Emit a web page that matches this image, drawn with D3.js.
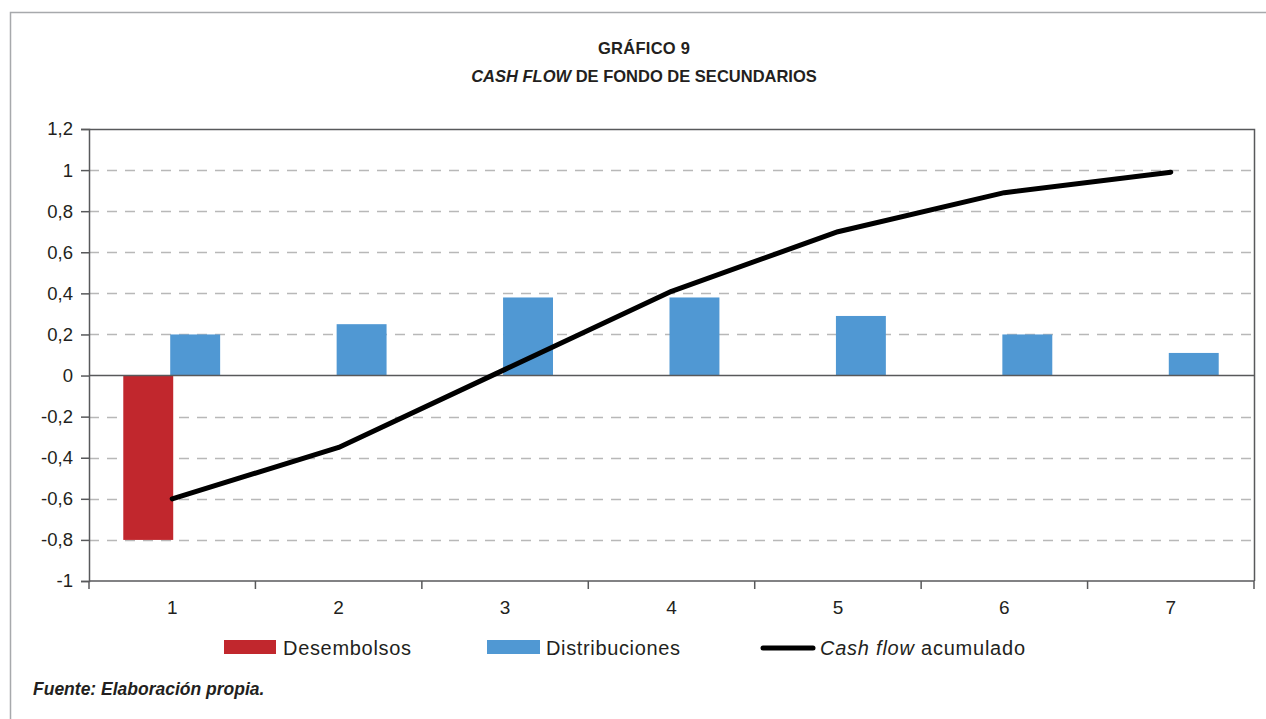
<!DOCTYPE html>
<html>
<head>
<meta charset="utf-8">
<script src="https://cdn.jsdelivr.net/npm/d3@7"></script>
<style>
  body { margin: 0; background: #fff; }
  svg text { font-family: "Liberation Sans", Arial, sans-serif; fill: #231f20; }
</style>
</head>
<body>
<div class="chart"></div>
<script>
var categories = ["1", "2", "3", "4", "5", "6", "7"];
var desembolsos = [-0.8, 0, 0, 0, 0, 0, 0];
var distribuciones = [0.2, 0.25, 0.38, 0.38, 0.29, 0.2, 0.11];
var acumulado = [-0.6, -0.35, 0.03, 0.41, 0.70, 0.89, 0.99];
var yTicks = [-1, -0.8, -0.6, -0.4, -0.2, 0, 0.2, 0.4, 0.6, 0.8, 1, 1.2];

var svgWidth = 1266;
var svgHeight = 719;
var margin = { top: 129, right: 12, bottom: 138, left: 89 };
var width = svgWidth - margin.left - margin.right;
var height = svgHeight - margin.top - margin.bottom;

var root = d3.select(".chart")
  .append("svg")
  .attr("width", svgWidth)
  .attr("height", svgHeight);

// outer frame (top and left edge)
root.append("path")
  .attr("d", "M10.5,719 V12.5 H1266")
  .attr("fill", "none")
  .attr("stroke", "#a7a9ac")
  .attr("stroke-width", 1.5);

// titles
root.append("text")
  .attr("x", 644).attr("y", 54)
  .attr("text-anchor", "middle")
  .attr("font-size", 16.5).attr("font-weight", "bold")
  .attr("textLength", 92)
  .text("GRÁFICO 9");

var t2 = root.append("text")
  .attr("x", 644).attr("y", 82)
  .attr("text-anchor", "middle")
  .attr("font-size", 16.5).attr("font-weight", "bold");
t2.append("tspan").attr("font-style", "italic").text("CASH FLOW");
t2.append("tspan").text(" DE FONDO DE SECUNDARIOS");

var chart = root.append("g")
  .attr("transform", "translate(" + margin.left + "," + margin.top + ")");

var x = d3.scaleBand().domain(categories).range([0, width]);
var y = d3.scaleLinear().domain([-1, 1.2]).range([height, 0]);
var barW = x.bandwidth() * 0.3;

// dashed gridlines
chart.selectAll(".grid")
  .data(yTicks.filter(function(d) { return d !== 0 && d !== 1.2 && d !== -1; }))
  .enter().append("line")
  .attr("x1", 0).attr("x2", width)
  .attr("y1", function(d) { return Math.round(y(d)) + 0.5; })
  .attr("y2", function(d) { return Math.round(y(d)) + 0.5; })
  .attr("stroke", "#b8b8b8")
  .attr("stroke-width", 1.5)
  .attr("stroke-dasharray", "10,8");

// bars
chart.selectAll(".des")
  .data(desembolsos.map(function(v, i) { return { c: categories[i], v: v }; }).filter(function(d) { return d.v !== 0; }))
  .enter().append("rect")
  .attr("x", function(d) { return x(d.c) + x.bandwidth() / 2 - barW + 1; })
  .attr("width", barW)
  .attr("y", function(d) { return y(Math.max(0, d.v)); })
  .attr("height", function(d) { return Math.abs(y(d.v) - y(0)); })
  .attr("fill", "#c1272d");

chart.selectAll(".dis")
  .data(distribuciones.map(function(v, i) { return { c: categories[i], v: v }; }))
  .enter().append("rect")
  .attr("x", function(d) { return x(d.c) + x.bandwidth() / 2 - 2; })
  .attr("width", barW)
  .attr("y", function(d) { return y(Math.max(0, d.v)); })
  .attr("height", function(d) { return Math.abs(y(d.v) - y(0)); })
  .attr("fill", "#5098d3");

// plot border top/right
chart.append("path")
  .attr("d", "M0," + 0.5 + " H" + (width + 0.5) + " V" + height)
  .attr("fill", "none")
  .attr("stroke", "#58595b")
  .attr("stroke-width", 1.5);

// zero line
chart.append("line")
  .attr("x1", 0).attr("x2", width)
  .attr("y1", y(0)).attr("y2", y(0))
  .attr("stroke", "#58595b")
  .attr("stroke-width", 1.5);

// cumulative line
var line = d3.line()
  .x(function(d, i) { return x(categories[i]) + x.bandwidth() / 2; })
  .y(function(d) { return y(d); });

chart.append("path")
  .datum(acumulado)
  .attr("d", line)
  .attr("fill", "none")
  .attr("stroke", "#000")
  .attr("stroke-width", 5)
  .attr("stroke-linecap", "round")
  .attr("stroke-linejoin", "round");

// axes
var leftAxis = d3.axisLeft(y)
  .tickValues(yTicks)
  .tickSize(8)
  .tickPadding(8)
  .tickFormat(function(d) { return d3.format("~g")(d).replace(".", ",").replace("\u2212", "-"); });

var gy = chart.append("g").call(leftAxis);
gy.select(".domain").attr("stroke", "#58595b").attr("stroke-width", 1.5);
gy.selectAll(".tick line").attr("stroke", "#58595b").attr("stroke-width", 1.5);
gy.selectAll(".tick text")
  .attr("font-size", 18.5)
  .attr("font-family", "Liberation Sans, Arial, sans-serif")
  .attr("fill", "#231f20");

var gx = chart.append("g").attr("transform", "translate(0," + height + ")");
gx.append("line")
  .attr("x1", 0).attr("x2", width)
  .attr("stroke", "#58595b").attr("stroke-width", 1.5);
gx.selectAll(".xt")
  .data(d3.range(categories.length + 1))
  .enter().append("line")
  .attr("x1", function(i) { return i * x.step(); })
  .attr("x2", function(i) { return i * x.step(); })
  .attr("y1", 0).attr("y2", 8)
  .attr("stroke", "#58595b").attr("stroke-width", 1.5);
gx.selectAll(".xl")
  .data(categories)
  .enter().append("text")
  .attr("x", function(d) { return x(d) + x.bandwidth() / 2; })
  .attr("y", 33)
  .attr("text-anchor", "middle")
  .attr("font-size", 19)
  .text(function(d) { return d; });

// legend
var leg = root.append("g").attr("transform", "translate(0,648)");
leg.append("rect").attr("x", 224).attr("y", -8).attr("width", 52).attr("height", 14).attr("fill", "#c1272d");
leg.append("text").attr("x", 283).attr("y", 7).attr("font-size", 20).attr("textLength", 128).text("Desembolsos");
leg.append("rect").attr("x", 487).attr("y", -8).attr("width", 53).attr("height", 14).attr("fill", "#5098d3");
leg.append("text").attr("x", 546).attr("y", 7).attr("font-size", 20).attr("textLength", 134).text("Distribuciones");
leg.append("line").attr("x1", 763).attr("x2", 813).attr("y1", 0).attr("y2", 0)
  .attr("stroke", "#000").attr("stroke-width", 5).attr("stroke-linecap", "round");
var lt = leg.append("text").attr("x", 820).attr("y", 7).attr("font-size", 20).attr("textLength", 205);
lt.append("tspan").attr("font-style", "italic").text("Cash flow");
lt.append("tspan").text(" acumulado");

// source
root.append("text")
  .attr("x", 33).attr("y", 695)
  .attr("font-size", 17.5).attr("font-weight", "bold").attr("font-style", "italic")
  .text("Fuente: Elaboración propia.");
</script>
</body>
</html>
